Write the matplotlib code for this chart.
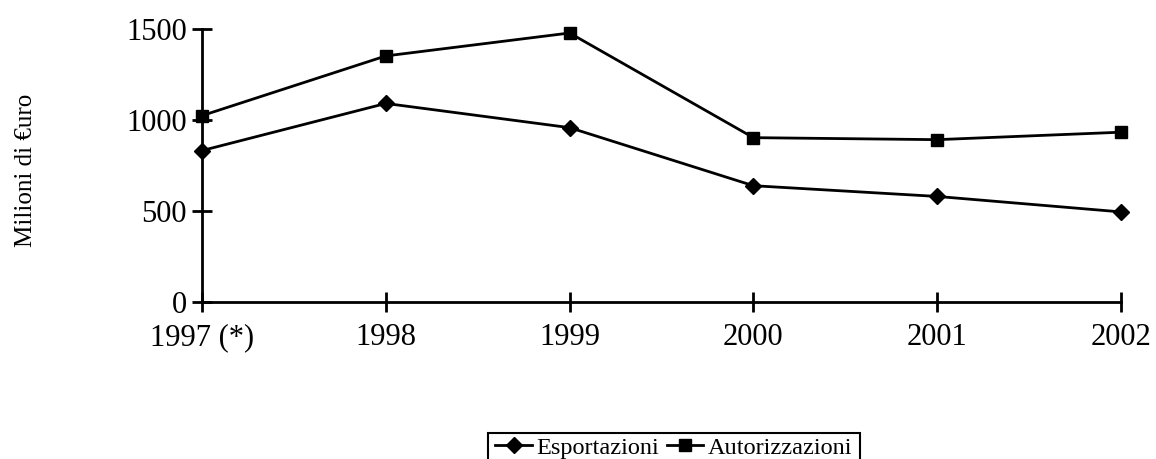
import matplotlib.pyplot as plt
from matplotlib.patches import Rectangle
from matplotlib.ticker import FixedLocator

plt.rcParams['font.family'] = ['Liberation Serif', 'DejaVu Serif']

anni = ["1997 (*)", "1998", "1999", "2000", "2001", "2002"]
esportazioni = [832, 1091, 958, 639, 580, 495]
autorizzazioni = [1024, 1352, 1478, 903, 892, 933]
y_ticks = [0, 500, 1000, 1500]

W, H = 1156, 459
fig = plt.figure(figsize=(W / 100, H / 100), dpi=100)
# plot area in pixels: left axis at x~202, right end ~1121, top 1500 at y~29, x-axis at y~302
ax = fig.add_axes([202 / W, 1 - 302 / H, (1121 - 202) / W, (302 - 29) / H])

x = list(range(len(anni)))
ax.plot(x, esportazioni, color='black', lw=2, marker='D', ms=8,
        label='Esportazioni', clip_on=False)
ax.plot(x, autorizzazioni, color='black', lw=2, marker='s', ms=9,
        label='Autorizzazioni', clip_on=False)

ax.set_xlim(0, len(anni) - 1)
ax.set_ylim(0, 1500)
ax.xaxis.set_major_locator(FixedLocator(x))
ax.set_xticklabels(anni)
ax.set_yticks(y_ticks)

for s in ['top', 'right']:
    ax.spines[s].set_visible(False)
for s in ['left', 'bottom']:
    ax.spines[s].set_linewidth(2)

ax.tick_params(axis='both', direction='inout', length=14, width=2,
               labelsize=22, colors='black')
ax.tick_params(axis='x', pad=8)
ax.tick_params(axis='y', pad=4)

fig.text(26 / W, 1 - 170 / H, 'Milioni di €uro', rotation=90,
         ha='center', va='center', fontsize=18)

# legend without frame; the box is drawn by hand so it runs off the bottom edge
leg = fig.legend(loc='upper center', bbox_to_anchor=(674 / W, 1 - 433 / H),
                 ncol=2, fontsize=17.5, frameon=False,
                 handlelength=1.5, handletextpad=0.2, columnspacing=0.3,
                 borderpad=0.15, borderaxespad=0)
fig.canvas.draw()
bb = leg.get_window_extent().transformed(fig.transFigure.inverted())
px = 4 / W
fig.patches.append(Rectangle((bb.x0 - px, -0.05), bb.width + 2 * px, bb.y1 + 0.05,
                             transform=fig.transFigure, fill=False,
                             edgecolor='black', linewidth=1.5))

fig.savefig('out.png', dpi=100)
